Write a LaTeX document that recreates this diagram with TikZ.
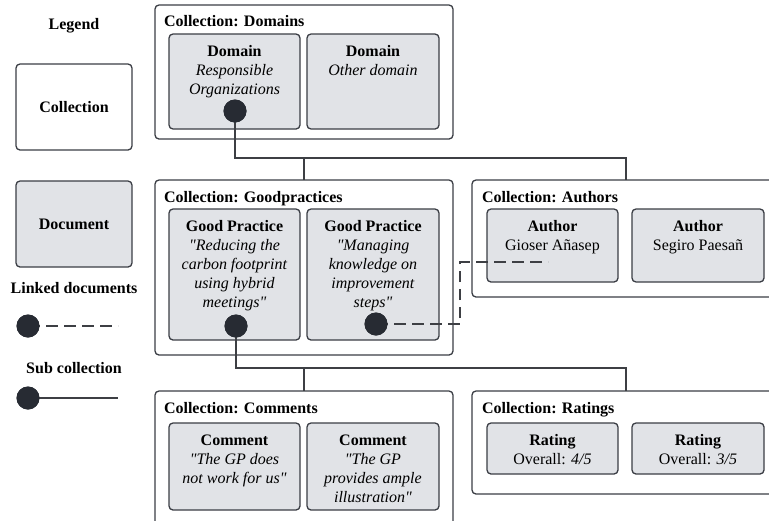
\documentclass[tikz,border=0pt]{standalone}
\usepackage{fontspec}
\setmainfont{Liberation Serif}
\definecolor{edgec}{HTML}{3B3E45}
\definecolor{docfill}{HTML}{E1E3E7}
\definecolor{dotc}{HTML}{272B33}
\definecolor{linec}{HTML}{3D3F44}
\newcommand{\qq}{\textquotedbl}
\begin{document}
\begin{tikzpicture}[x=1pt,y=-1pt,
  every node/.style={inner sep=0pt, outer sep=0pt, font=\fontsize{16}{19}\selectfont},
  coll/.style={draw=edgec, line width=1.3pt, rounded corners=4pt, fill=white,
    anchor=north west},
  doc/.style={draw=edgec, line width=1.3pt, rounded corners=4pt, fill=docfill,
    anchor=north west},
  ctitle/.style={anchor=base west, font=\fontsize{16}{19}\selectfont\bfseries},
  dtext/.style={anchor=north, align=center, yshift=-11.4pt},
  dotnode/.style={circle, fill=dotc, minimum size=23pt},
  conn/.style={draw=linec, line width=1.3pt},
  link/.style={draw=linec, line width=1.3pt, dash pattern=on 11.5pt off 6.5pt}]
\useasboundingbox (0,0) rectangle (769,520);
\clip (0,0) rectangle (769,520);

% ---------- legend ----------
\node[font=\fontsize{16}{19}\selectfont\bfseries] (legend) at (74,26) {Legend};
\node[coll, minimum width=116pt, minimum height=86pt] (lgcoll) at (16,64) {};
\node[font=\fontsize{16}{19}\selectfont\bfseries] (lgcollt) at (lgcoll.center) {Collection};
\node[doc, minimum width=116pt, minimum height=86pt] (lgdoc) at (16,181) {};
\node[font=\fontsize{16}{19}\selectfont\bfseries] (lgdoct) at (lgdoc.center) {Document};
\node[font=\fontsize{16}{19}\selectfont\bfseries] (lglink) at (74,288) {Linked documents};
\node[font=\fontsize{16}{19}\selectfont\bfseries] (lgsub) at (74,368) {Sub collection};
\coordinate (lglinkend) at (118,326);
\coordinate (lgsubend) at (118,398);
\node[dotnode] (lglinkdot) at (28,326) {};
\node[dotnode] (lgsubdot) at (28,398) {};
\draw[link] (lglinkdot.center) -- (lglinkend);
\draw[conn] (lgsubdot.center) -- (lgsubend);
\node[dotnode] at (lglinkdot) {};
\node[dotnode] at (lgsubdot) {};

% ---------- collection: domains ----------
\node[coll, minimum width=298pt, minimum height=134pt] (domains) at (155,5) {};
\node[ctitle] (domainst) at (164,26) {Collection: Domains};
\node[doc, minimum width=131pt, minimum height=95pt] (dom1) at (169,34) {};
\node[doc, minimum width=132pt, minimum height=95pt] (dom2) at (307,34) {};
\node[dtext] (dom1t) at (dom1.north) {\textbf{Domain}\\\textit{Responsible}\\\textit{Organizations}};
\node[dtext] (dom2t) at (dom2.north) {\textbf{Domain}\\\textit{Other domain}};

% ---------- collection: goodpractices ----------
\node[coll, minimum width=298pt, minimum height=175pt] (gp) at (155,180) {};
\node[ctitle] (gpt) at (164,202) {Collection: Goodpractices};
\node[doc, minimum width=131pt, minimum height=131pt] (gp1) at (169,209) {};
\node[doc, minimum width=132pt, minimum height=131pt] (gp2) at (307,209) {};
\node[dtext] (gp1t) at (gp1.north) {\textbf{Good Practice}\\\textit{\qq Reducing the}\\\textit{carbon footprint}\\\textit{using hybrid}\\\textit{meetings\qq}};
\node[dtext] (gp2t) at (gp2.north) {\textbf{Good Practice}\\\textit{\qq Managing}\\\textit{knowledge on}\\\textit{improvement}\\\textit{steps\qq}};

% ---------- collection: authors ----------
\node[coll, minimum width=320pt, minimum height=117pt] (authors) at (472,180) {};
\node[ctitle] (authorst) at (482,202) {Collection: Authors};
\node[doc, minimum width=131pt, minimum height=73pt] (au1) at (487,209) {};
\node[doc, minimum width=132pt, minimum height=73pt] (au2) at (632,209) {};
\node[dtext] (au1t) at (au1.north) {\textbf{Author}\\Gioser Añasep};
\node[dtext] (au2t) at (au2.north) {\textbf{Author}\\Segiro Paesañ};

% ---------- collection: comments ----------
\node[coll, minimum width=298pt, minimum height=140pt] (comments) at (155,391) {};
\node[ctitle] (commentst) at (164,413) {Collection: Comments};
\node[doc, minimum width=131pt, minimum height=87pt] (cm1) at (169,423) {};
\node[doc, minimum width=132pt, minimum height=87pt] (cm2) at (307,423) {};
\node[dtext] (cm1t) at (cm1.north) {\textbf{Comment}\\\textit{\qq The GP does}\\\textit{not work for us\qq}};
\node[dtext] (cm2t) at (cm2.north) {\textbf{Comment}\\\textit{\qq The GP}\\\textit{provides ample}\\\textit{illustration\qq}};

% ---------- collection: ratings ----------
\node[coll, minimum width=320pt, minimum height=103pt] (ratings) at (472,391) {};
\node[ctitle] (ratingst) at (482,413) {Collection: Ratings};
\node[doc, minimum width=131pt, minimum height=51pt] (rt1) at (487,423) {};
\node[doc, minimum width=132pt, minimum height=51pt] (rt2) at (632,423) {};
\node[dtext] (rt1t) at (rt1.north) {\textbf{Rating}\\Overall: \textit{4/5}};
\node[dtext] (rt2t) at (rt2.north) {\textbf{Rating}\\Overall: \textit{3/5}};

% ---------- sub collection connectors ----------
\node[dotnode] (dom1dot) at (235,111) {};
\node[dotnode] (gp1dot) at (236,326) {};
\node[dotnode] (gp2dot) at (376,324) {};

\coordinate (ja) at (235,158);
\coordinate (jb) at (304,158);
\coordinate (jc) at (626,158);
\draw[conn] (dom1dot.center) -- (ja) -- (jc) -- (jc |- authors.north);
\draw[conn] (jb) -- (jb |- gp.north);

\coordinate (ka) at (236,368);
\coordinate (kb) at (304,368);
\coordinate (kc) at (626,368);
\draw[conn] (gp1dot.center) -- (ka) -- (kc) -- (kc |- ratings.north);
\draw[conn] (kb) -- (kb |- comments.north);

% ---------- linked documents connector ----------
\coordinate (la) at (460,324);
\coordinate (lb) at (460,262);
\coordinate (lc) at (548,262);
\draw[link] (gp2dot.center) -- (la) -- (lb) -- (lc);

% dots on top of their lines
\node[dotnode] at (dom1dot) {};
\node[dotnode] at (gp1dot) {};
\node[dotnode] at (gp2dot) {};
\end{tikzpicture}
\end{document}
